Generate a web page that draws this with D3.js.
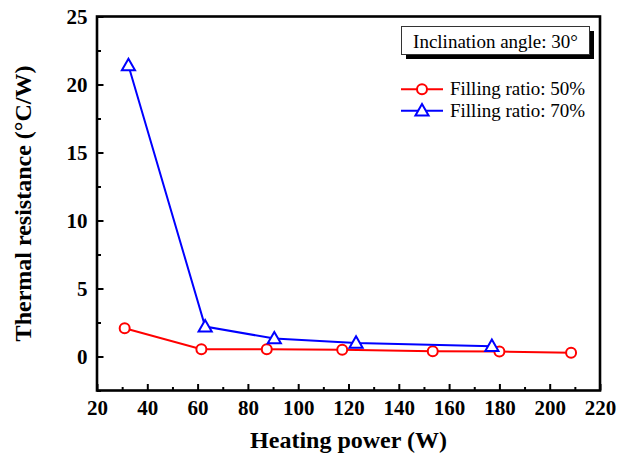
<!DOCTYPE html>
<html>
<head>
<meta charset="utf-8">
<script src="https://cdn.jsdelivr.net/npm/d3@7/dist/d3.min.js"></script>
<style>
  body { margin: 0; background: #fff; }
  svg { display: block; }
</style>
</head>
<body>
<svg id="chart" width="619" height="458"></svg>
<script>
// Heating power (W) and thermal resistance (°C/W) for each filling ratio
const power50 = [31, 61.5, 87.5, 117.5, 153.5, 180, 208.5];
const res50   = [2.08, 0.54, 0.54, 0.49, 0.38, 0.37, 0.27];
const power70 = [32.5, 63, 90.5, 123, 177];
const res70   = [21.4, 2.2, 1.32, 1.0, 0.76];

const xTicks = [20, 40, 60, 80, 100, 120, 140, 160, 180, 200, 220];
const yTicks = [0, 5, 10, 15, 20, 25];
const xMinor = d3.range(30, 220, 20);
const yMinor = d3.range(-2.5, 25, 5);

const series = [
  { name: "Filling ratio: 50%", color: "#ff0000", shape: "circle", xs: power50, ys: res50 },
  { name: "Filling ratio: 70%", color: "#0000ff", shape: "triangle", xs: power70, ys: res70 }
];
const noteText = "Inclination angle: 30°";

const FONT = "'Liberation Serif', 'Times New Roman', serif";
const svg = d3.select("#chart");
const plotL = 97, plotR = 600, plotT = 16.5, plotB = 390.5;

const x = d3.scaleLinear().domain([20, 220]).range([plotL, plotR]);
const y = d3.scaleLinear().domain([-2.5, 25]).range([plotB, plotT]);

// Minor ticks
svg.append("g").attr("transform", `translate(0,${plotB})`)
  .call(d3.axisBottom(x).tickValues(xMinor).tickSize(-3.5).tickFormat(""))
  .call(g => g.select(".domain").remove())
  .selectAll("line").attr("stroke", "#000").attr("stroke-width", 2);
svg.append("g").attr("transform", `translate(${plotL},0)`)
  .call(d3.axisLeft(y).tickValues(yMinor).tickSize(-4).tickFormat(""))
  .call(g => g.select(".domain").remove())
  .selectAll("line").attr("stroke", "#000").attr("stroke-width", 2);

// Major ticks and labels
const gx = svg.append("g").attr("transform", `translate(0,${plotB})`)
  .call(d3.axisBottom(x).tickValues(xTicks).tickSize(-6.5).tickPadding(9.5));
gx.select(".domain").remove();
gx.selectAll("line").attr("stroke", "#000").attr("stroke-width", 2);
gx.selectAll("text").style("font-family", FONT).style("font-size", "21px")
  .style("font-weight", "bold").attr("fill", "#000");

const gy = svg.append("g").attr("transform", `translate(${plotL},0)`)
  .call(d3.axisLeft(y).tickValues(yTicks).tickSize(-6.5).tickPadding(9.5));
gy.select(".domain").remove();
gy.selectAll("line").attr("stroke", "#000").attr("stroke-width", 2);
gy.selectAll("text").style("font-family", FONT).style("font-size", "21px")
  .style("font-weight", "bold").attr("fill", "#000");

// Frame
svg.append("rect")
  .attr("x", plotL).attr("y", plotT)
  .attr("width", plotR - plotL).attr("height", plotB - plotT)
  .attr("fill", "none").attr("stroke", "#000").attr("stroke-width", 2.6);

// Axis titles
svg.append("text")
  .attr("x", (plotL + plotR) / 2).attr("y", 448)
  .attr("text-anchor", "middle")
  .style("font-family", FONT).style("font-size", "24px").style("font-weight", "bold")
  .text("Heating power (W)");
svg.append("text")
  .attr("transform", `translate(31,${(plotT + plotB) / 2}) rotate(-90)`)
  .attr("text-anchor", "middle")
  .style("font-family", FONT).style("font-size", "24px").style("font-weight", "bold")
  .text("Thermal resistance (°C/W)");

// Marker drawing
const tri = d3.symbol().type(d3.symbolTriangle).size(75);
function drawMarker(g, s, cx, cy) {
  if (s.shape === "circle") {
    g.append("circle").attr("cx", cx).attr("cy", cy).attr("r", 5)
      .attr("fill", "#fff").attr("stroke", s.color).attr("stroke-width", 2);
  } else {
    g.append("path").attr("d", tri())
      .attr("transform", `translate(${cx},${cy + 1})`)
      .attr("fill", "#fff").attr("stroke", s.color).attr("stroke-width", 2);
  }
}

// Series lines and markers
const line = d3.line().x(d => x(d[0])).y(d => y(d[1]));
series.forEach(s => {
  const pts = s.xs.map((v, i) => [v, s.ys[i]]);
  svg.append("path").datum(pts).attr("d", line)
    .attr("fill", "none").attr("stroke", s.color).attr("stroke-width", 2);
  const g = svg.append("g");
  pts.forEach(p => drawMarker(g, s, x(p[0]), y(p[1])));
});

// Annotation box with drop shadow
const bx = 401.5, by = 26.5, bw = 188, bh = 28;
svg.append("rect").attr("x", bx + 4.5).attr("y", by + 4.5).attr("width", bw).attr("height", bh).attr("fill", "#000");
svg.append("rect").attr("x", bx).attr("y", by).attr("width", bw).attr("height", bh)
  .attr("fill", "#fff").attr("stroke", "#333").attr("stroke-width", 1);
svg.append("text").attr("x", bx + bw / 2).attr("y", by + 21)
  .attr("text-anchor", "middle")
  .style("font-family", FONT).style("font-size", "19px")
  .text(noteText);

// Legend
const leg = svg.append("g");
series.forEach((s, i) => {
  const ly = 89.3 + i * 21.4;
  leg.append("line").attr("x1", 401).attr("x2", 443).attr("y1", ly).attr("y2", ly)
    .attr("stroke", s.color).attr("stroke-width", 2);
  drawMarker(leg, s, 422, ly);
  leg.append("text").attr("x", 450).attr("y", ly + 6)
    .style("font-family", FONT).style("font-size", "19px")
    .text(s.name);
});
</script>
</body>
</html>
